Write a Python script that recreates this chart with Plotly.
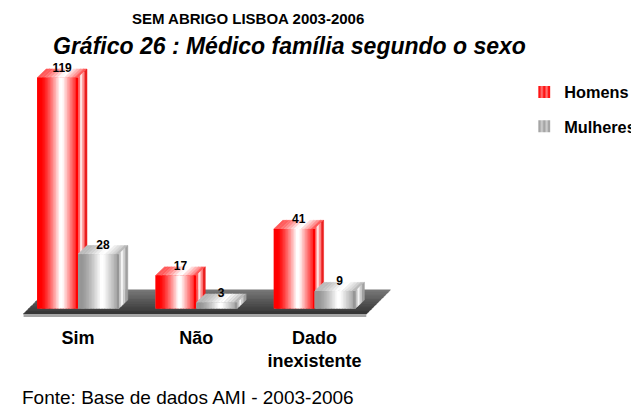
import plotly.graph_objects as go

# ---------------- data ----------------
categories = ["Sim", "Não", "Dado<br>inexistente"]
series_names = ["Homens", "Mulheres"]
homens = [119, 17, 41]
mulheres = [28, 3, 9]
title_line1 = "SEM ABRIGO LISBOA 2003-2006"
title_line2 = "Gráfico 26 : Médico família segundo o sexo"
source_text = "Fonte: Base de dados AMI - 2003-2006"

# ---------------- style / geometry ----------------
FONT = "Arial, Liberation Sans, sans-serif"
BAR_W = 0.345            # width of one bar (x units, category spacing = 1)
DX = 9 / 118.3           # 3D depth, x units
DY = 8.6 / 1.94          # 3D depth, y units
N_SLICES = 26            # vertical slices to emulate gradient
N_TOP = 12
X_RANGE = [-0.5917, 2.891]
Y_RANGE = [-4.38, 128.09]

def wfun(t):
    if t < 0.1:
        return 0.0
    if t < 0.56:
        return ((t - 0.1) / 0.46) ** 1.3
    if t < 0.62:
        return 1.0
    if t < 0.95:
        return 1 - 0.85 * (t - 0.62) / 0.33
    return 0.0

def red(w):
    v = int(round(255 * w))
    return f"rgb(255,{v},{v})"

def grey(w):
    v = int(round(150 + 105 * w))
    return f"rgb({v},{v},{v})"

palettes = [red, grey]
legend_bg = ["rgb(255,20,20)", "rgb(165,165,165)"]
legend_fg = ["rgb(255,215,215)", "rgb(245,245,245)"]
offsets = [-BAR_W, 0.0]
values = [homens, mulheres]
xs = list(range(len(categories)))

fig = go.Figure()

# base bars (carry the legend), then gradient slices on top
for s, name in enumerate(series_names):
    fig.add_trace(go.Bar(
        x=xs, y=values[s], width=BAR_W, offset=offsets[s], name=name,
        marker=dict(color=legend_bg[s], line=dict(width=0),
                    pattern=dict(shape="|", fgcolor=legend_fg[s], bgcolor=legend_bg[s],
                                 size=6, solidity=0.45)),
        legendgroup=name, hoverinfo="skip"))
    sw = BAR_W / N_SLICES
    for i in range(N_SLICES):
        t = (i + 0.5) / N_SLICES
        w = sw * (1.6 if i < N_SLICES - 1 else 1.0)
        fig.add_trace(go.Bar(
            x=xs, y=values[s], width=w, offset=offsets[s] + i * sw,
            marker=dict(color=palettes[s](wfun(t)), line=dict(width=0)),
            showlegend=False, legendgroup=name, hoverinfo="skip"))

shapes = []

# floor (slab)
yF = (308.5 - 314) / 1.94
yB = (308.5 - 290) / 1.94
yS = (308.5 - 317) / 1.94
xL, xR = -0.46, 2.437
DXF = 24 / 118.3
K = 10
for k in range(K):
    fa, fb = k / K, (k + 1) / K
    ya = yB - fa * (yB - yF)
    yb = yB - fb * (yB - yF)
    sa = DXF * (1 - fa)
    sb = DXF * (1 - fb)
    g = int(round(118 - 70 * fa))
    col = f"rgb({g},{g},{g})"
    shapes.append(dict(type="path", xref="x", yref="y", layer="below",
                       path=f"M{xL+sa},{ya} L{xR+sa},{ya} L{xR+sb},{yb} L{xL+sb},{yb} Z",
                       fillcolor=col, line=dict(color=col, width=1)))
shapes.append(dict(type="path", xref="x", yref="y", layer="below",
                   path=f"M{xL},{yF} L{xR},{yF} L{xR},{yS} L{xL},{yS} Z",
                   fillcolor="rgb(165,165,165)", line=dict(width=0)))

# 3D top and side faces of every bar
side_red = ["rgb(255,90,90)", "rgb(255,225,225)", "rgb(255,140,140)", "rgb(235,30,30)"]
side_grey = ["rgb(195,195,195)", "rgb(245,245,245)", "rgb(205,205,205)", "rgb(160,160,160)"]
sides = [side_red, side_grey]
for s in range(len(series_names)):
    for c in xs:
        v = values[s][c]
        x0 = c + offsets[s]
        # top face
        tw = BAR_W / N_TOP
        for j in range(N_TOP):
            t = (j + 0.5) / N_TOP
            col = palettes[s](0.35 + 0.65 * wfun(t))
            xa = x0 + j * tw
            xb = xa + tw
            shapes.append(dict(type="path", xref="x", yref="y", layer="below",
                               path=f"M{xa},{v} L{xb},{v} L{xb+DX},{v+DY} L{xa+DX},{v+DY} Z",
                               fillcolor=col, line=dict(color=col, width=0.6)))
        # side face
        x1 = x0 + BAR_W
        bottom = values[s + 1][c] if s + 1 < len(values) else 0
        ns = len(sides[s])
        for k in range(ns):
            fa, fb = k / ns, (k + 1) / ns
            xa, xb = x1 + fa * DX, x1 + fb * DX
            col = sides[s][k]
            shapes.append(dict(type="path", xref="x", yref="y", layer="below",
                               path=(f"M{xa},{bottom+fa*DY} L{xb},{bottom+fb*DY} "
                                     f"L{xb},{v+fb*DY} L{xa},{v+fa*DY} Z"),
                               fillcolor=col, line=dict(color=col, width=0.5)))

# value labels
for s in range(len(series_names)):
    fig.add_trace(go.Scatter(
        x=[c + offsets[s] + BAR_W / 2 + DX / 2 for c in xs],
        y=[v + DY for v in values[s]],
        text=[str(v) for v in values[s]], mode="text", textposition="middle center",
        textfont=dict(family=FONT, size=12, color="black", weight="bold"),
        showlegend=False, hoverinfo="skip", cliponaxis=False))

annotations = [
    dict(text=title_line1, xref="paper", yref="paper", x=0.5837, y=1.1634,
         xanchor="center", yanchor="middle", showarrow=False,
         font=dict(family=FONT, size=15, color="black", weight="bold")),
    dict(text=f"<b><i>{title_line2}</i></b>", xref="paper", yref="paper", x=0.6833, y=1.0545,
         xanchor="center", yanchor="middle", showarrow=False,
         font=dict(family=FONT, size=23, color="black")),
    dict(text=source_text, xref="paper", yref="paper", x=0.03, y=-0.3113,
         xanchor="left", yanchor="middle", showarrow=False,
         font=dict(family=FONT, size=19, color="black")),
]

fig.update_layout(
    width=631, height=402,
    margin=dict(l=0, r=219, t=52, b=93, autoexpand=False),
    paper_bgcolor="white", plot_bgcolor="white",
    barmode="overlay",
    shapes=shapes, annotations=annotations,
    xaxis=dict(range=X_RANGE, tickvals=xs, ticktext=categories, ticks="",
               showgrid=False, zeroline=False, showline=False, automargin=False,
               ticklabelstandoff=8,
               tickfont=dict(family=FONT, size=18, color="black", weight="bold")),
    yaxis=dict(range=Y_RANGE, visible=False, showgrid=False, zeroline=False,
               automargin=False),
    legend=dict(x=1.253, y=0.942, xanchor="left", yanchor="top",
                font=dict(family=FONT, size=16.3, color="black", weight="bold"),
                tracegroupgap=10, traceorder="grouped", bgcolor="rgba(0,0,0,0)"),
    showlegend=True,
)

fig.write_html("out.html")
